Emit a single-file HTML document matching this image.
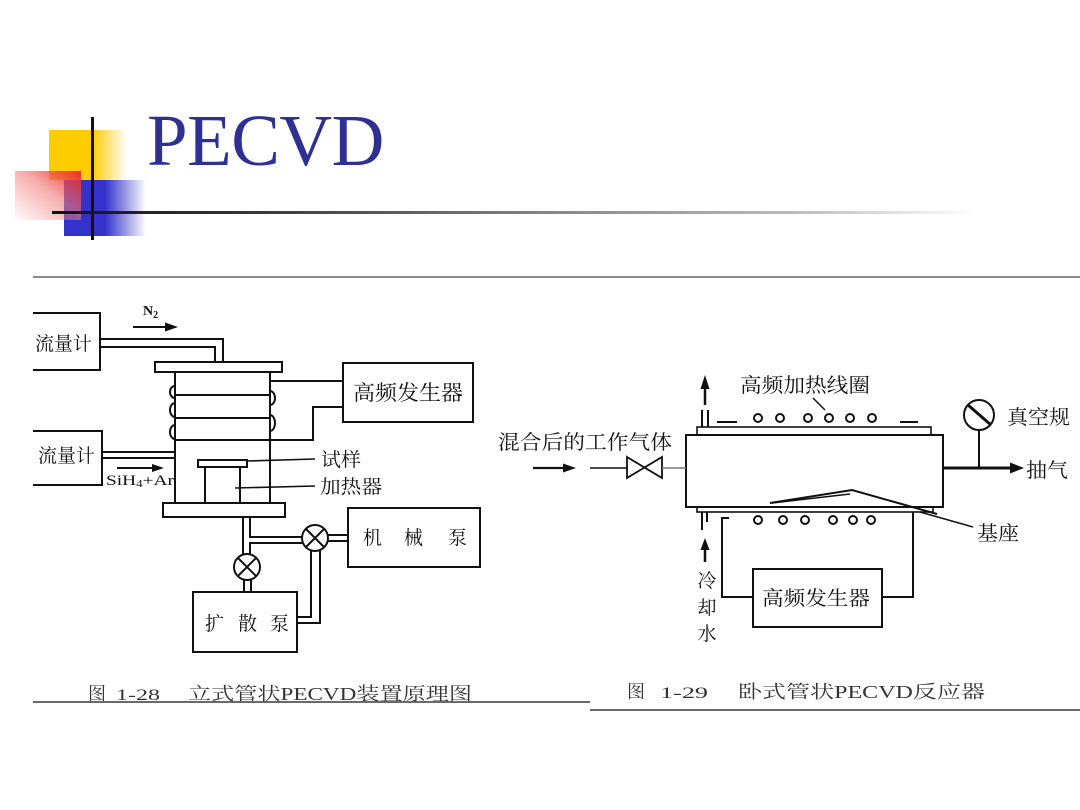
<!DOCTYPE html>
<html>
<head>
<meta charset="utf-8">
<style>
html,body{margin:0;padding:0;background:#fff;}
#wrap{position:relative;width:1080px;height:810px;overflow:hidden;background:#fff;}
.abs{position:absolute;}
#title{position:absolute;left:147px;top:104px;font-family:"Liberation Serif",serif;font-size:73px;color:#2E3192;line-height:1;letter-spacing:-0.5px;}
svg text{font-family:"Liberation Serif","Noto Serif CJK SC",serif;fill:#111;}
</style>
</head>
<body>
<div id="wrap">
  <!-- logo -->
  <div class="abs" style="left:49px;top:130px;width:78px;height:50px;background:linear-gradient(to right,#FFCC00 0%,#FFCC00 55%,rgba(255,210,60,0) 100%);"></div>
  <div class="abs" style="left:64px;top:180px;width:82px;height:56px;background:linear-gradient(to right,#3333CC 0%,#3333CC 50%,rgba(60,60,210,0) 100%);"></div>
  <div class="abs" style="left:15px;top:171px;width:66px;height:49px;background:linear-gradient(to top right,rgba(255,220,220,0.1) 0%,rgba(240,120,120,0.6) 55%,rgba(235,40,40,0.95) 100%);"></div>
  <div class="abs" style="left:91px;top:117px;width:3px;height:123px;background:#111;"></div>
  <div class="abs" style="left:52px;top:211px;width:925px;height:3px;background:linear-gradient(to right,#111 0%,#333 20%,#888 55%,#bbb 80%,rgba(220,220,220,0) 100%);"></div>
  <div id="title">PECVD</div>

  <svg class="abs" style="left:0;top:0" width="1080" height="810" viewBox="0 0 1080 810">
    <!-- separator lines -->
    <line x1="33" y1="277" x2="1080" y2="277" stroke="#7a7a7a" stroke-width="1.8"/>
    <line x1="33" y1="702" x2="590" y2="702" stroke="#6a6a6a" stroke-width="2"/>
    <line x1="590" y1="710" x2="1080" y2="710" stroke="#6a6a6a" stroke-width="2"/>

    <g stroke="#111" stroke-width="2" fill="none">
      <!-- LEFT DIAGRAM -->
      <path d="M33 313 H100 V370 H33"/>
      <path d="M100 339 H223 V362"/>
      <path d="M100 347 H215 V362"/>
      <line x1="133" y1="327" x2="170" y2="327"/>
      <rect x="155" y="362" width="127" height="10"/>
      <line x1="175" y1="372" x2="175" y2="503"/>
      <line x1="270" y1="372" x2="270" y2="503"/>
      <line x1="175" y1="395" x2="270" y2="395"/>
      <line x1="175" y1="418" x2="270" y2="418"/>
      <path d="M175 440 H313 V407 H343"/>
      <path d="M270 381 H343"/>
      <path d="M175 386 A5 6 0 0 0 175 398"/>
      <path d="M175 403 A5 7 0 0 0 175 417"/>
      <path d="M175 425 A5 7 0 0 0 175 439"/>
      <path d="M270 391 A5 7 0 0 1 270 405"/>
      <path d="M270 415 A5 8 0 0 1 270 431"/>
      <rect x="343" y="363" width="130" height="59"/>
      <path d="M33 431 H102 V485 H33"/>
      <line x1="102" y1="452" x2="175" y2="452"/>
      <line x1="102" y1="458" x2="175" y2="458"/>
      <line x1="117" y1="468" x2="158" y2="468"/>
      <rect x="198" y="460" width="49" height="7"/>
      <line x1="205" y1="467" x2="205" y2="503"/>
      <line x1="240" y1="467" x2="240" y2="503"/>
      <line x1="247" y1="461" x2="315" y2="459" stroke-width="1.6"/>
      <line x1="235" y1="488" x2="315" y2="486" stroke-width="1.6"/>
      <rect x="163" y="503" width="122" height="14"/>
      <path d="M243 517 V554"/>
      <path d="M250 517 V537 H302"/>
      <path d="M250 554 V543 H302"/>
      <circle cx="247" cy="567" r="13"/>
      <path d="M238 558 L256 576 M256 558 L238 576"/>
      <line x1="244" y1="580" x2="244" y2="592"/>
      <line x1="251" y1="580" x2="251" y2="592"/>
      <rect x="193" y="592" width="104" height="60"/>
      <circle cx="315" cy="538" r="13"/>
      <path d="M306 529 L324 547 M324 529 L306 547"/>
      <path d="M311 551 V617 H297"/>
      <path d="M320 550 V623 H297"/>
      <line x1="328" y1="535" x2="348" y2="535"/>
      <line x1="328" y1="541" x2="348" y2="541"/>
      <rect x="348" y="508" width="132" height="59"/>

      <!-- RIGHT DIAGRAM -->
      <rect x="686" y="435" width="257" height="72"/>
      <rect x="697" y="427" width="234" height="8" stroke-width="1.6"/>
      <line x1="702" y1="410" x2="702" y2="427"/>
      <line x1="708" y1="410" x2="708" y2="427"/>
      <line x1="705" y1="405" x2="705" y2="384" stroke-width="2.5"/>
      <line x1="717" y1="422" x2="737" y2="422"/>
      <line x1="900" y1="422" x2="918" y2="422"/>
      <circle cx="758" cy="418" r="4"/>
      <circle cx="780" cy="418" r="4"/>
      <circle cx="808" cy="418" r="4"/>
      <circle cx="829" cy="418" r="4"/>
      <circle cx="850" cy="418" r="4"/>
      <circle cx="872" cy="418" r="4"/>
      <line x1="813" y1="398" x2="825" y2="410" stroke-width="1.5"/>
      <line x1="533" y1="468" x2="566" y2="468" stroke-width="2.2"/>
      <line x1="590" y1="468" x2="627" y2="468" stroke-width="1.6"/>
      <path d="M627 457 L662 478 L662 457 L627 478 Z" stroke-width="1.8"/>
      <line x1="662" y1="468" x2="686" y2="468" stroke="#777" stroke-width="1.5"/>
      <circle cx="979" cy="415" r="15"/>
      <line x1="968" y1="405" x2="991" y2="425" stroke-width="3"/>
      <line x1="979" y1="430" x2="979" y2="468"/>
      <line x1="943" y1="468" x2="1012" y2="468" stroke-width="3"/>
      <rect x="697" y="507" width="236" height="5" stroke-width="1.6"/>
      <path d="M770 503 L852 490 L937 514"/>
      <path d="M772 503 L850 494" stroke-width="1.5"/>
      <line x1="920" y1="512" x2="973" y2="527" stroke-width="1.5"/>
      <circle cx="758" cy="520" r="4"/>
      <circle cx="783" cy="520" r="4"/>
      <circle cx="805" cy="520" r="4"/>
      <circle cx="833" cy="520" r="4"/>
      <circle cx="853" cy="520" r="4"/>
      <circle cx="871" cy="520" r="4"/>
      <line x1="702" y1="512" x2="702" y2="530"/>
      <line x1="707" y1="512" x2="707" y2="522"/>
      <line x1="705" y1="562" x2="705" y2="545" stroke-width="2.5"/>
      <path d="M729 518 H722 V597 H753"/>
      <path d="M882 597 H913 V512"/>
      <rect x="753" y="569" width="129" height="58"/>
    </g>

    <!-- arrowheads -->
    <g fill="#111" stroke="none">
      <polygon points="178,327 165,322.5 165,331.5"/>
      <polygon points="164,468 152,464 152,472"/>
      <polygon points="576,468 563,463.5 563,472.5"/>
      <polygon points="705,375 700.5,389 709.5,389"/>
      <polygon points="1024,468 1010,462.5 1010,473.5"/>
      <polygon points="705,538 700.5,550 709.5,550"/>
    </g>

    <!-- LEFT labels -->
    <text x="143" y="315" font-size="14" font-weight="bold">N<tspan font-size="10" dy="3">2</tspan></text>
    <text x="35" y="350" font-size="19" textLength="57" lengthAdjust="spacingAndGlyphs">流量计</text>
    <text x="38" y="462" font-size="19" textLength="57" lengthAdjust="spacingAndGlyphs">流量计</text>
    <text x="106" y="485" font-size="15" textLength="68" lengthAdjust="spacingAndGlyphs">SiH<tspan font-size="10" dy="2">4</tspan><tspan dy="-2">+Ar</tspan></text>
    <text x="353" y="400" font-size="21" textLength="110" lengthAdjust="spacingAndGlyphs">高频发生器</text>
    <text x="321" y="466" font-size="19" textLength="40" lengthAdjust="spacingAndGlyphs">试样</text>
    <text x="320" y="493" font-size="19" textLength="62" lengthAdjust="spacingAndGlyphs">加热器</text>
    <text x="363" y="544" font-size="19">机</text>
    <text x="404" y="544" font-size="19">械</text>
    <text x="448" y="544" font-size="19">泵</text>
    <text x="205" y="630" font-size="19">扩</text>
    <text x="238" y="630" font-size="19">散</text>
    <text x="270" y="630" font-size="19">泵</text>

    <!-- RIGHT labels -->
    <text x="740" y="392" font-size="20" textLength="130" lengthAdjust="spacingAndGlyphs">高频加热线圈</text>
    <text x="498" y="449" font-size="20" textLength="174" lengthAdjust="spacingAndGlyphs">混合后的工作气体</text>
    <text x="1007" y="424" font-size="20" textLength="63" lengthAdjust="spacingAndGlyphs">真空规</text>
    <text x="1026" y="477" font-size="20" textLength="42" lengthAdjust="spacingAndGlyphs">抽气</text>
    <text x="977" y="540" font-size="20" textLength="42" lengthAdjust="spacingAndGlyphs">基座</text>
    <text x="762" y="605" font-size="20" textLength="108" lengthAdjust="spacingAndGlyphs">高频发生器</text>
    <text x="707" y="587" font-size="19" text-anchor="middle">冷</text>
    <text x="707" y="614" font-size="19" text-anchor="middle">却</text>
    <text x="707" y="640" font-size="19" text-anchor="middle">水</text>

    <!-- captions -->
    <g style="fill:#333">
      <text x="88" y="700" font-size="18" style="fill:#333">图</text>
      <text x="116" y="700" font-size="16" style="fill:#333" textLength="44" lengthAdjust="spacingAndGlyphs">1-28</text>
      <text x="188" y="700" font-size="18" style="fill:#333" textLength="284" lengthAdjust="spacingAndGlyphs">立式管状PECVD装置原理图</text>
      <text x="627" y="698" font-size="18" style="fill:#333">图</text>
      <text x="660" y="698" font-size="16" style="fill:#333" textLength="48" lengthAdjust="spacingAndGlyphs">1-29</text>
      <text x="738" y="698" font-size="18" style="fill:#333" textLength="247" lengthAdjust="spacingAndGlyphs">卧式管状PECVD反应器</text>
    </g>
  </svg>
</div>
</body>
</html>
